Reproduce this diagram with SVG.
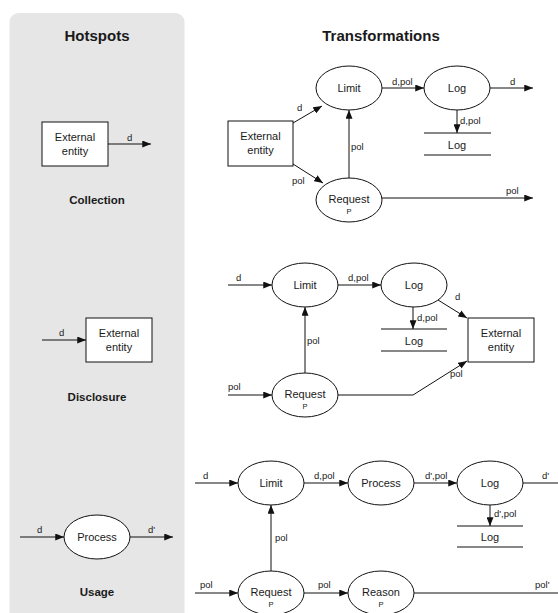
<svg xmlns="http://www.w3.org/2000/svg" width="558" height="613" viewBox="0 0 558 613">
<defs>
<marker id="ah" viewBox="0 0 10 8" refX="10" refY="4" markerWidth="9" markerHeight="7" markerUnits="userSpaceOnUse" orient="auto">
<path d="M0,0 L10,4 L0,8 z" fill="#111"/>
</marker>
<style>
text{font-family:"Liberation Sans",Arial,sans-serif;fill:#1a1a1a}
.h{font-size:15px;font-weight:bold;text-anchor:middle}
.cap{font-size:11.5px;font-weight:bold;text-anchor:middle}
.n{font-size:11px;text-anchor:middle}
.p{font-size:7.5px;text-anchor:middle}
.l{font-size:9.5px}
.shape{fill:#fff;stroke:#111;stroke-width:1}
.panelshape{fill:none;stroke:#111;stroke-width:1}
.c{fill:none;stroke:#111;stroke-width:1;marker-end:url(#ah)}
.cn{fill:none;stroke:#111;stroke-width:1}
</style>
</defs>
<rect x="9.5" y="13" width="175" height="620" rx="9" fill="#e6e6e6"/>
<text class="h" x="97" y="41">Hotspots</text>
<text class="h" x="381" y="41">Transformations</text>

<!-- Left panel -->
<g id="hs-collection-entity">
<rect class="shape" x="42" y="122" width="66" height="44"/>
<text class="n" x="75" y="141">External</text>
<text class="n" x="75" y="155">entity</text>
</g>
<text class="cap" x="97" y="204">Collection</text>
<g id="hs-disclosure-entity">
<rect class="shape" x="86" y="318" width="66" height="44"/>
<text class="n" x="119" y="337">External</text>
<text class="n" x="119" y="351">entity</text>
</g>
<text class="cap" x="97" y="401">Disclosure</text>
<g id="hs-usage-process">
<ellipse class="shape" cx="97" cy="537" rx="33" ry="22"/>
<text class="n" x="97" y="541">Process</text>
</g>
<text class="cap" x="97" y="596">Usage</text>

<!-- Top: Collection -->
<g id="t1-entity">
<rect class="shape" x="228" y="121" width="65" height="45"/>
<text class="n" x="260.5" y="140">External</text>
<text class="n" x="260.5" y="154">entity</text>
</g>
<g id="t1-limit">
<ellipse class="shape" cx="349" cy="88" rx="33" ry="22"/>
<text class="n" x="349" y="92">Limit</text>
</g>
<g id="t1-log">
<ellipse class="shape" cx="457" cy="88" rx="33" ry="22"/>
<text class="n" x="457" y="92">Log</text>
</g>
<g id="t1-logstore">
<line class="cn" x1="424" y1="133" x2="491" y2="133"/>
<line class="cn" x1="424" y1="155" x2="491" y2="155"/>
<text class="n" x="457" y="149">Log</text>
</g>
<g id="t1-request">
<ellipse class="shape" cx="349" cy="200" rx="33" ry="22"/>
<text class="n" x="349" y="203">Request</text>
<text class="p" x="349" y="214">P</text>
</g>

<!-- Middle: Disclosure -->
<g id="t2-limit">
<ellipse class="shape" cx="305" cy="285" rx="33" ry="22"/>
<text class="n" x="305" y="289">Limit</text>
</g>
<g id="t2-log">
<ellipse class="shape" cx="414" cy="285" rx="33" ry="22"/>
<text class="n" x="414" y="289">Log</text>
</g>
<g id="t2-logstore">
<line class="cn" x1="381" y1="329" x2="447" y2="329"/>
<line class="cn" x1="381" y1="351" x2="447" y2="351"/>
<text class="n" x="414" y="345">Log</text>
</g>
<g id="t2-entity">
<rect class="shape" x="468" y="318" width="66" height="44"/>
<text class="n" x="501" y="337">External</text>
<text class="n" x="501" y="351">entity</text>
</g>
<g id="t2-request">
<ellipse class="shape" cx="305" cy="395" rx="33" ry="22"/>
<text class="n" x="305" y="398">Request</text>
<text class="p" x="305" y="409">P</text>
</g>

<!-- Bottom: Usage -->
<g id="t3-limit">
<ellipse class="shape" cx="271" cy="483" rx="33" ry="22"/>
<text class="n" x="271" y="487">Limit</text>
</g>
<g id="t3-process">
<ellipse class="shape" cx="381" cy="483" rx="33" ry="22"/>
<text class="n" x="381" y="487">Process</text>
</g>
<g id="t3-log">
<ellipse class="shape" cx="490" cy="483" rx="33" ry="22"/>
<text class="n" x="490" y="487">Log</text>
</g>
<g id="t3-logstore">
<line class="cn" x1="457" y1="526" x2="523" y2="526"/>
<line class="cn" x1="457" y1="547" x2="523" y2="547"/>
<text class="n" x="490" y="541">Log</text>
</g>
<g id="t3-request">
<ellipse class="shape" cx="271" cy="593" rx="33" ry="22"/>
<text class="n" x="271" y="596">Request</text>
<text class="p" x="271" y="607">P</text>
</g>
<g id="t3-reason">
<ellipse class="shape" cx="381" cy="593" rx="33" ry="22"/>
<text class="n" x="381" y="596">Reason</text>
<text class="p" x="381" y="607">P</text>
</g>

<g id="connectors">
<!-- left panel -->
<line class="c" x1="108" y1="144" x2="151" y2="144"/>
<text class="l" x="127" y="141">d</text>
<line class="c" x1="42" y1="340" x2="86" y2="340"/>
<text class="l" x="59" y="336">d</text>
<line class="c" x1="20" y1="537" x2="64" y2="537"/>
<text class="l" x="37" y="533">d</text>
<line class="c" x1="130" y1="537" x2="173" y2="537"/>
<text class="l" x="148" y="533">d'</text>

<!-- top -->
<line class="c" x1="293" y1="123" x2="322" y2="106"/>
<text class="l" x="297" y="111">d</text>
<line class="c" x1="293" y1="164" x2="323" y2="183"/>
<text class="l" x="292" y="184">pol</text>
<line class="c" x1="349" y1="178" x2="349" y2="110"/>
<text class="l" x="351" y="150">pol</text>
<line class="c" x1="382" y1="88" x2="424" y2="88"/>
<text class="l" x="392" y="85">d,pol</text>
<line class="c" x1="490" y1="88" x2="533" y2="88"/>
<text class="l" x="510" y="85">d</text>
<line class="c" x1="457" y1="110" x2="457" y2="133"/>
<text class="l" x="460" y="124">d,pol</text>
<line class="c" x1="382" y1="198" x2="533" y2="198"/>
<text class="l" x="506" y="194">pol</text>

<!-- middle -->
<line class="c" x1="228" y1="285" x2="272" y2="285"/>
<text class="l" x="236" y="281">d</text>
<line class="c" x1="338" y1="285" x2="381" y2="285"/>
<text class="l" x="348" y="281">d,pol</text>
<line class="c" x1="413" y1="307" x2="413" y2="329"/>
<text class="l" x="417" y="321">d,pol</text>
<line class="c" x1="438" y1="300" x2="467" y2="318"/>
<text class="l" x="455" y="300">d</text>
<line class="c" x1="305" y1="373" x2="305" y2="307"/>
<text class="l" x="307" y="344">pol</text>
<line class="c" x1="228" y1="395" x2="272" y2="395"/>
<text class="l" x="228" y="390">pol</text>
<polyline class="c" points="338,395 413,395 467,361"/>
<text class="l" x="450" y="377">pol</text>

<!-- bottom -->
<line class="c" x1="195" y1="483" x2="238" y2="483"/>
<text class="l" x="203" y="479">d</text>
<line class="c" x1="304" y1="483" x2="348" y2="483"/>
<text class="l" x="314" y="479">d,pol</text>
<line class="c" x1="414" y1="483" x2="457" y2="483"/>
<text class="l" x="425" y="479">d',pol</text>
<line class="cn" x1="523" y1="483" x2="558" y2="483"/>
<text class="l" x="542" y="479">d'</text>
<line class="c" x1="490" y1="505" x2="490" y2="526"/>
<text class="l" x="494" y="517">d',pol</text>
<line class="c" x1="271" y1="571" x2="271" y2="505"/>
<text class="l" x="275" y="541">pol</text>
<line class="c" x1="195" y1="593" x2="238" y2="593"/>
<text class="l" x="200" y="588">pol</text>
<line class="c" x1="304" y1="593" x2="348" y2="593"/>
<text class="l" x="318" y="588">pol</text>
<line class="cn" x1="414" y1="593" x2="558" y2="593"/>
<text class="l" x="535" y="588">pol'</text>
</g>
</svg>
